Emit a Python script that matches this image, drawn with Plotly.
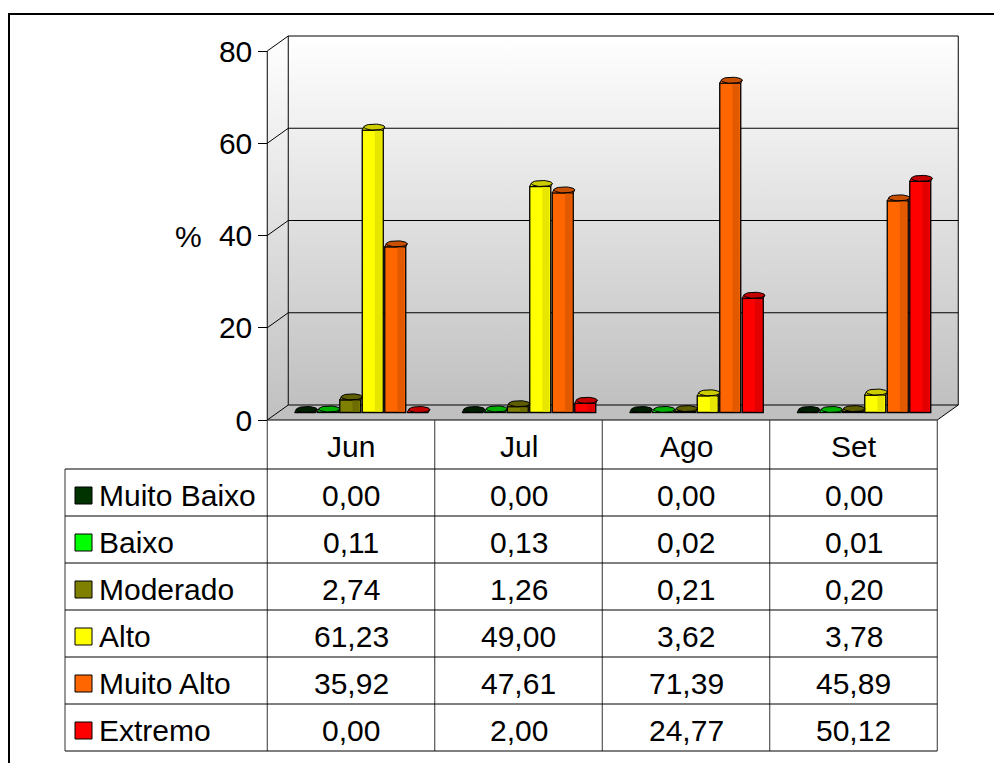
import numpy as np
import plotly.graph_objects as go

# ---- data -------------------------------------------------------------
months = ["Jun", "Jul", "Ago", "Set"]
series_names = ["Muito Baixo", "Baixo", "Moderado", "Alto", "Muito Alto", "Extremo"]
muito_baixo = [0.00, 0.00, 0.00, 0.00]
baixo = [0.11, 0.13, 0.02, 0.01]
moderado = [2.74, 1.26, 0.21, 0.20]
alto = [61.23, 49.00, 3.62, 3.78]
muito_alto = [35.92, 47.61, 71.39, 45.89]
extremo = [0.00, 2.00, 24.77, 50.12]
y_ticks = [0, 20, 40, 60, 80]
y_title = "%"

series_values = [muito_baixo, baixo, moderado, alto, muito_alto, extremo]

# ---- styling ----------------------------------------------------------
face_colors = ["#003300", "#00ee00", "#808000", "#ffff00", "#ff6600", "#ff0000"]
shade_colors = ["#002a00", "#00cc00", "#6e6e00", "#e6e600", "#e25a00", "#e20000"]
cap_colors = ["#001e00", "#00b000", "#5e5e00", "#cccc00", "#c85000", "#c40000"]
legend_colors = ["#003300", "#00ff00", "#808000", "#ffff00", "#ff6600", "#ff0000"]
FONT = "Liberation Sans, Arial, sans-serif"
FS = 30

W, H = 994, 763
PX_X = 167.5          # pixels per month column
PX_Y = 4.6125         # pixels per percent
DEPTH_X, DEPTH_Y = 21, 15   # 3-D depth offset (front -> back) in pixels
BAR_X0 = 361.5        # pixel x of first bar group (mid-depth plane)
FRONT_ZERO, BAR_ZERO, BACK_ZERO = 420, 412.5, 405   # pixel y of value 0 per plane

BARGAP, BARGROUPGAP = 0.194, 0.067

hx = DEPTH_X / 2 / PX_X
hy2 = DEPTH_Y / PX_Y          # front->back shift in value units
xf0, xf1 = -0.5 - hx, len(months) - 0.5 - hx   # front floor edges
xb0, xb1 = -0.5 + hx, len(months) - 0.5 + hx   # back wall edges
ymax = y_ticks[-1]


def yrange(zero_px):
    return [-(H - zero_px) / PX_Y, zero_px / PX_Y]


def px(x):
    return x / W


def py(y):
    return 1 - y / H


def x_to_px(x):
    return BAR_X0 + x * PX_X


fig = go.Figure()

wall_grad = dict(type="vertical", colorscale=[[0, "#c0c0c0"], [1, "#ffffff"]])

# side wall and back wall (back-plane axis "y")
fig.add_trace(go.Scatter(x=[xf0, xf0, xb0, xb0], y=[-hy2, ymax - hy2, ymax, 0],
                         fill="toself", fillgradient=wall_grad, mode="none",
                         hoverinfo="skip", showlegend=False))
fig.add_trace(go.Scatter(x=[xb0, xb1, xb1, xb0], y=[0, 0, ymax, ymax],
                         fill="toself", fillgradient=wall_grad, mode="none",
                         hoverinfo="skip", showlegend=False))
# floor
fig.add_trace(go.Scatter(x=[xf0, xb0, xb1, xf1, xf0], y=[-hy2, 0, 0, -hy2, -hy2],
                         fill="toself", fillcolor="#c0c0c0", mode="lines",
                         line=dict(color="black", width=1),
                         hoverinfo="skip", showlegend=False))
# grid lines across side wall and back wall, plus wall edges
gx, gy = [], []
for t in y_ticks[1:]:
    gx += [xf0, xb0, xb1, None]
    gy += [t - hy2, t, t, None]
gx += [xb0, xb0, None, xb1, xb1]
gy += [0, ymax, None, 0, ymax]
fig.add_trace(go.Scatter(x=gx, y=gy, mode="lines", line=dict(color="black", width=1),
                         hoverinfo="skip", showlegend=False))

# front axis line (front-plane axis "y3")
fig.add_trace(go.Scatter(x=[xf0, xf0], y=[0, ymax], mode="lines", yaxis="y3",
                         line=dict(color="black", width=1),
                         hoverinfo="skip", showlegend=False))

# bars (mid-depth axis "y2")
xs = list(range(len(months)))
for k, name in enumerate(series_names):
    fig.add_trace(go.Bar(x=xs, y=series_values[k], name=name, yaxis="y2",
                         marker=dict(color=face_colors[k],
                                     line=dict(color="black", width=1.3)),
                         showlegend=False))

# shading, top extensions and caps for the cylinder look
slot = (1 - BARGAP) / len(series_names)
bw = slot * (1 - BARGROUPGAP)
ins_x, ins_y = 1.5 / PX_X, 1.0 / PX_Y
cx, cy = 1.5 / PX_X, 3.0 / PX_Y
eb = 3.0 / PX_Y
tt = np.linspace(0, 2 * np.pi, 33)
for k in range(len(series_names)):
    sx, sy, ex, ey, kx, ky = [], [], [], [], [], []
    for i, v in enumerate(series_values[k]):
        xc = i + (k - (len(series_names) - 1) / 2) * slot
        L, R = xc - bw / 2, xc + bw / 2
        if v * PX_Y > 3:
            sx += [xc + 0.1 * bw, R - ins_x, R - ins_x, xc + 0.1 * bw, xc + 0.1 * bw, None]
            sy += [ins_y, ins_y, v, v, ins_y, None]
        ex += [L, R, R + cx, L + cx, L, None]
        ey += [v, v, v + cy, v + cy, v, None]
        kx += list(xc + cx + (bw / 2) * np.cos(tt)) + [None]
        ky += list(v + cy + eb * np.sin(tt)) + [None]
    if sx:
        fig.add_trace(go.Scatter(x=sx, y=sy, yaxis="y2", fill="toself",
                                 fillcolor=shade_colors[k], mode="none",
                                 hoverinfo="skip", showlegend=False))
    fig.add_trace(go.Scatter(x=ex, y=ey, yaxis="y2", fill="toself",
                             fillcolor=face_colors[k], mode="lines",
                             line=dict(color="black", width=1),
                             hoverinfo="skip", showlegend=False))
    fig.add_trace(go.Scatter(x=kx, y=ky, yaxis="y2", fill="toself",
                             fillcolor=cap_colors[k], mode="lines",
                             line=dict(color="black", width=1),
                             hoverinfo="skip", showlegend=False))

# ---- data table below the chart --------------------------------------
shapes = []
annotations = []
line_col = "#333333"
col_left = [x_to_px(xf0 + c) for c in range(len(months) + 1)]
TABLE_L = 65
HEAD_TOP, HEAD_BOT = FRONT_ZERO, 469
ROW_H = 47
row_lines = [HEAD_BOT + r * ROW_H for r in range(len(series_names) + 1)]

for xl in col_left:
    shapes.append(dict(type="line", xref="paper", yref="paper",
                       x0=px(xl), x1=px(xl), y0=py(HEAD_TOP), y1=py(row_lines[-1]),
                       line=dict(color=line_col, width=1)))
shapes.append(dict(type="line", xref="paper", yref="paper",
                   x0=px(TABLE_L), x1=px(TABLE_L), y0=py(HEAD_BOT), y1=py(row_lines[-1]),
                   line=dict(color=line_col, width=1)))
for yl in row_lines:
    shapes.append(dict(type="line", xref="paper", yref="paper",
                       x0=px(TABLE_L), x1=px(col_left[-1]), y0=py(yl), y1=py(yl),
                       line=dict(color="black", width=1)))

for c, m in enumerate(months):
    annotations.append(dict(xref="paper", yref="paper",
                            x=px((col_left[c] + col_left[c + 1]) / 2),
                            y=py((HEAD_TOP + HEAD_BOT) / 2 + 2),
                            text=m, showarrow=False, xanchor="center", yanchor="middle",
                            font=dict(family=FONT, size=FS, color="black")))

for r, name in enumerate(series_names):
    yc = (row_lines[r] + row_lines[r + 1]) / 2 + 3
    shapes.append(dict(type="rect", xref="paper", yref="paper",
                       x0=px(75), x1=px(92), y0=py(yc - 8.5), y1=py(yc + 8.5),
                       fillcolor=legend_colors[r], line=dict(color="black", width=1)))
    annotations.append(dict(xref="paper", yref="paper", x=px(97), y=py(yc),
                            text=name, showarrow=False, xanchor="left", yanchor="middle",
                            font=dict(family=FONT, size=FS, color="black")))
    for c in range(len(months)):
        txt = f"{series_values[r][c]:.2f}".replace(".", ",")
        annotations.append(dict(xref="paper", yref="paper",
                                x=px((col_left[c] + col_left[c + 1]) / 2), y=py(yc),
                                text=txt, showarrow=False, xanchor="center", yanchor="middle",
                                font=dict(family=FONT, size=FS, color="black")))

annotations.append(dict(xref="paper", yref="paper", x=px(188), y=py(236),
                        text=y_title, showarrow=False, xanchor="center", yanchor="middle",
                        font=dict(family=FONT, size=FS, color="black")))

# outer frame
shapes.append(dict(type="rect", xref="paper", yref="paper",
                   x0=px(9), x1=1.02, y0=py(14), y1=-0.02,
                   line=dict(color="black", width=2)))

fig.update_layout(
    width=W, height=H,
    margin=dict(l=0, r=0, t=0, b=0),
    paper_bgcolor="white", plot_bgcolor="white",
    barmode="group", bargap=BARGAP, bargroupgap=BARGROUPGAP,
    showlegend=False,
    xaxis=dict(range=[-BAR_X0 / PX_X, (W - BAR_X0) / PX_X], visible=False),
    yaxis=dict(range=yrange(BACK_ZERO), visible=False),
    yaxis2=dict(range=yrange(BAR_ZERO), overlaying="y", visible=False),
    yaxis3=dict(range=yrange(FRONT_ZERO), overlaying="y", anchor="free",
                position=px(x_to_px(xf0)), side="left",
                tickvals=y_ticks, ticks="outside", ticklen=9, tickwidth=1,
                tickcolor="black", showgrid=False, zeroline=False, showline=False,
                tickfont=dict(family=FONT, size=FS, color="black")),
    shapes=shapes,
    annotations=annotations,
    font=dict(family=FONT),
)

fig.write_html("out.html")
